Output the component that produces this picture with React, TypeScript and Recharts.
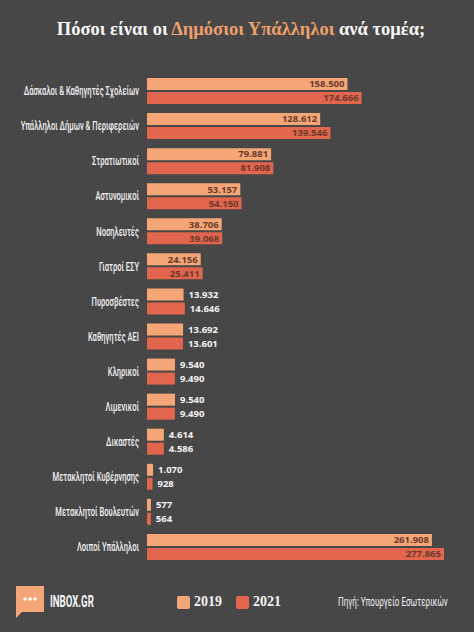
import React from "react";
import { BarChart, Bar, XAxis, YAxis, LabelList } from "recharts";

const CATEGORIES = [
  "Δάσκαλοι & Καθηγητές Σχολείων",
  "Υπάλληλοι Δήμων & Περιφερειών",
  "Στρατιωτικοί",
  "Αστυνομικοί",
  "Νοσηλευτές",
  "Γιατροί ΕΣΥ",
  "Πυροσβέστες",
  "Καθηγητές ΑΕΙ",
  "Κληρικοί",
  "Λιμενικοί",
  "Δικαστές",
  "Μετακλητοί Κυβέρνησης",
  "Μετακλητοί Βουλευτών",
  "Λοιποί Υπάλληλοι",
];

const VALUES_2019 = [158500, 128612, 79881, 53157, 38706, 24156, 13932, 13692, 9540, 9540, 4614, 1070, 577, 261908];
const VALUES_2021 = [174666, 139546, 81908, 54150, 39068, 25411, 14646, 13601, 9490, 9490, 4586, 928, 564, 277865];

const SERIES = [
  { key: "y2019", name: "2019", color: "#f5a677" },
  { key: "y2021", name: "2021", color: "#e2654d" },
];

// bar lengths in the original grow slower than the values, roughly like v^0.7
const EXP = 0.7;

const BG = "#474747";
const NARROW = "Roboto, sans-serif";

const data = CATEGORIES.map((name, i) => ({
  name,
  y2019: VALUES_2019[i],
  y2021: VALUES_2021[i],
}));

const fmt = (n: number) => String(n).replace(/\B(?=(\d{3})+(?!\d))/g, ".");

const ValueLabel = (props: any) => {
  const { x, y, width, height, value } = props;
  const inside = width > 45;
  return (
    <text
      x={inside ? x + width - 3 : x + width + 5}
      y={y + height / 2}
      dy="0.35em"
      textAnchor={inside ? "end" : "start"}
      fontFamily="'Open Sans', sans-serif"
      fontWeight={700}
      fontSize={9.5}
      fill={inside ? "#6a3a2c" : "#f4f4f4"}
    >
      {fmt(value)}
    </text>
  );
};

// no condensed face installed, so squeeze Roboto horizontally
const CategoryTick = (props: any) => {
  const { x, y, payload } = props;
  return (
    <g transform={`translate(${x},${y}) scale(0.56,1)`}>
      <text
        x={0}
        y={0}
        dy="0.35em"
        textAnchor="end"
        fontFamily={NARROW}
        fontWeight={500}
        fontSize={13.5}
        fill="#f2f2f2"
      >
        {payload.value}
      </text>
    </g>
  );
};

export default function App() {
  return (
    <div style={{ position: "absolute", left: 0, top: 0, width: 474, height: 632, background: BG, overflow: "hidden" }}>
      <div
        style={{
          position: "absolute",
          top: 19,
          left: 4,
          width: 474,
          textAlign: "center",
          fontFamily: "'Liberation Serif', serif",
          fontWeight: 700,
          fontSize: 18.5,
          color: "#f5f5f5",
        }}
      >
        Πόσοι είναι οι <span style={{ color: "#f0a06c" }}>Δημόσιοι Υπάλληλοι</span> ανά τομέα;
      </div>

      <BarChart
        width={474}
        height={632}
        data={data}
        layout="vertical"
        barSize={12}
        barGap={2}
        margin={{ top: 73, right: 30, bottom: 68, left: 0 }}
        style={{ position: "absolute", left: 0, top: 0 }}
      >
        <XAxis type="number" hide domain={[0, "dataMax"]} />
        <YAxis
          type="category"
          dataKey="name"
          width={147}
          axisLine={false}
          tickLine={false}
          interval={0}
          tick={<CategoryTick />}
          tickMargin={2}
        />
        {SERIES.map((s) => (
          <Bar
            key={s.key}
            dataKey={(d: any) => Math.pow(d[s.key], EXP)}
            name={s.name}
            fill={s.color}
            isAnimationActive={false}
          >
            <LabelList dataKey={s.key} content={<ValueLabel />} />
          </Bar>
        ))}
      </BarChart>

      {/* footer: logo, legend, source */}
      <svg style={{ position: "absolute", left: 16, top: 586 }} width={30} height={34}>
        <rect x={0} y={0} width={28} height={26} fill="#f5a677" />
        <path d="M0 26 L0 32 L6 26 Z" fill="#f5a677" />
        <circle cx={9} cy={13} r={1.8} fill="#fff" />
        <circle cx={14} cy={13} r={1.8} fill="#fff" />
        <circle cx={19} cy={13} r={1.8} fill="#fff" />
      </svg>
      <div
        style={{
          position: "absolute",
          left: 50,
          top: 592,
          fontFamily: NARROW,
          fontWeight: 700,
          fontSize: 16,
          color: "#f5f5f5",
          transform: "scaleX(0.6)",
          transformOrigin: "left center",
          whiteSpace: "nowrap",
        }}
      >
        INBOX.GR
      </div>
      <div style={{ position: "absolute", left: 177, top: 594, display: "flex", alignItems: "center", gap: 8 }}>
        {SERIES.map((s) => (
          <div key={s.key} style={{ display: "flex", alignItems: "center", gap: 4, marginRight: 6 }}>
            <span style={{ width: 13, height: 13, background: s.color, borderRadius: 2, display: "inline-block" }} />
            <span style={{ fontFamily: "'Liberation Serif', serif", fontWeight: 700, fontSize: 14, color: "#f5f5f5" }}>
              {s.name}
            </span>
          </div>
        ))}
      </div>
      <div
        style={{
          position: "absolute",
          left: 338,
          top: 595,
          fontFamily: NARROW,
          fontSize: 12,
          color: "#f0f0f0",
          transform: "scaleX(0.67)",
          transformOrigin: "left center",
          whiteSpace: "nowrap",
        }}
      >
        Πηγή: Υπουργείο Εσωτερικών
      </div>
    </div>
  );
}
